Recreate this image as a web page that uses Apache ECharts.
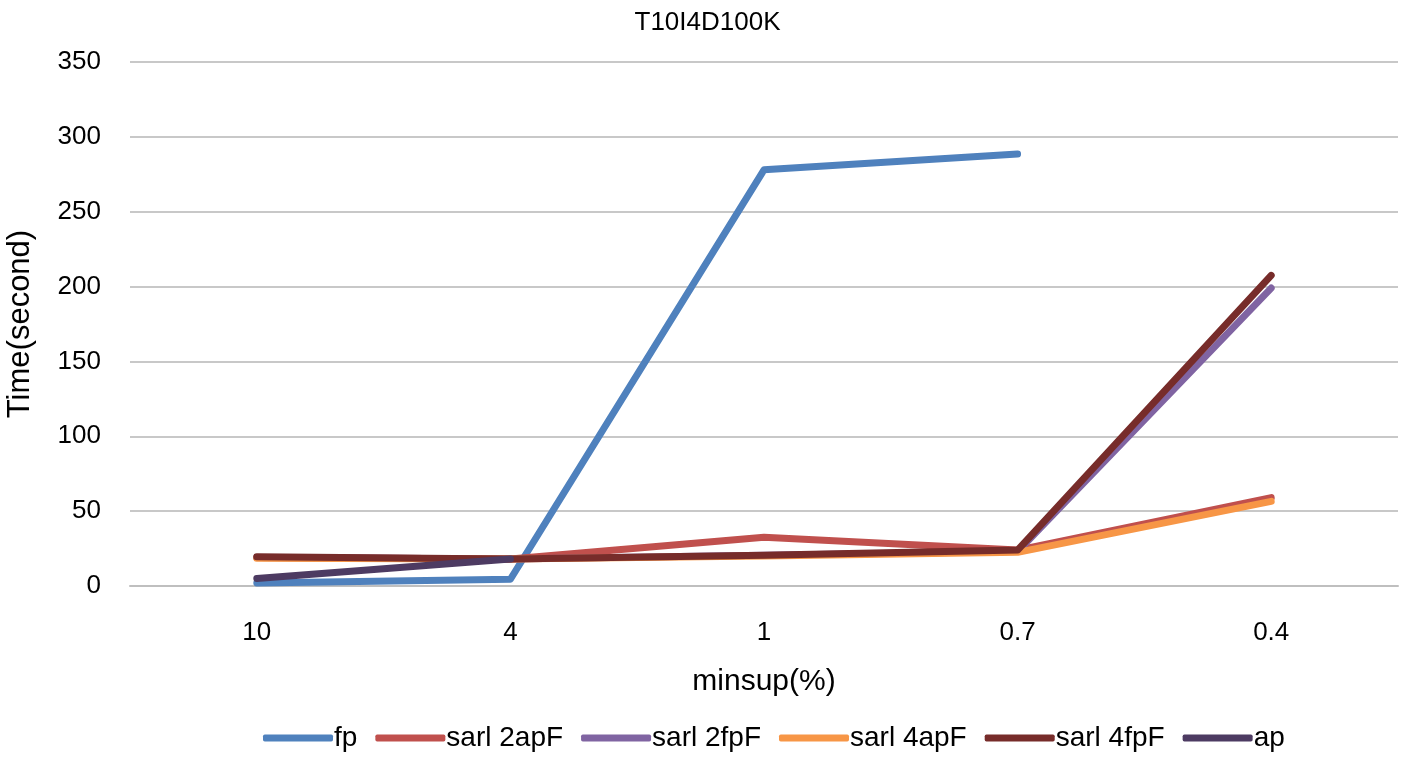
<!DOCTYPE html>
<html><head><meta charset="utf-8">
<script src="https://cdn.jsdelivr.net/npm/echarts@6/dist/echarts.min.js"></script>
<style>html,body{margin:0;padding:0;background:#fff}#c{width:1415px;height:757px}</style>
</head><body><div id="c"></div>
<script>
const categories = ['10', '4', '1', '0.7', '0.4'];
const fp = [2, 4.5, 278, 288.5, null];
const sarl2apF = [19, 18, 32.5, 24, 59];
const sarl2fpF = [19, 18, 20.5, 23, 199];
const sarl4apF = [18.5, 18, 20, 22.5, 56.5];
const sarl4fpF = [19.5, 18, 20.5, 24, 207.5];
const ap = [5, 18, null, null, null];
const seriesNames = ['fp', 'sarl 2apF', 'sarl 2fpF', 'sarl 4apF', 'sarl 4fpF', 'ap'];
const seriesData = [fp, sarl2apF, sarl2fpF, sarl4apF, sarl4fpF, ap];
const colors = ['#4f81bd', '#c0504d', '#8064a2', '#f79646', '#772c2a', '#4d3b62'];

const font = 'Liberation Sans, sans-serif';
const chart = echarts.init(document.getElementById('c'));
chart.setOption({
  animation: false,
  color: colors,
  title: { text: 'T10I4D100K', left: 'center', top: 5, textStyle: { fontFamily: font, fontSize: 26, fontWeight: 'normal', color: '#000' } },
  grid: { left: 130, right: 17, top: 62, bottom: 171, outerBoundsMode: 'none' },
  legend: {
    bottom: 0, left: 258, itemWidth: 70, itemHeight: 7, itemGap: 18,
    icon: 'roundRect',
    textStyle: { fontFamily: font, fontSize: 28, color: '#000', padding: [0,0,0,-4] },
    data: seriesNames
  },
  xAxis: {
    type: 'category', data: categories, boundaryGap: true,
    name: 'minsup(%)', nameLocation: 'middle', nameGap: 81,
    nameTextStyle: { fontFamily: font, fontSize: 30, color: '#000' },
    axisLine: { lineStyle: { color: '#bfbfbf', width: 2 } },
    axisTick: { show: false },
    axisLabel: { fontFamily: font, fontSize: 26, color: '#000', margin: 34 }
  },
  yAxis: {
    type: 'value', min: 0, max: 350, interval: 50,
    name: 'Time(second)', nameLocation: 'middle', nameGap: 94,
    nameTextStyle: { fontFamily: font, fontSize: 31, color: '#000' },
    axisLine: { show: false }, axisTick: { show: false },
    axisLabel: { fontFamily: font, fontSize: 26, color: '#000', margin: 29 },
    splitLine: { lineStyle: { color: '#c8c8c8', width: 2 } }
  },
  series: seriesNames.map((n, i) => ({
    name: n, type: 'line', data: seriesData[i], showSymbol: false, symbol: 'none',
    lineStyle: { width: 7, cap: 'round', join: 'round', color: colors[i] },
    itemStyle: { color: colors[i] }
  }))
});
</script></body></html>
